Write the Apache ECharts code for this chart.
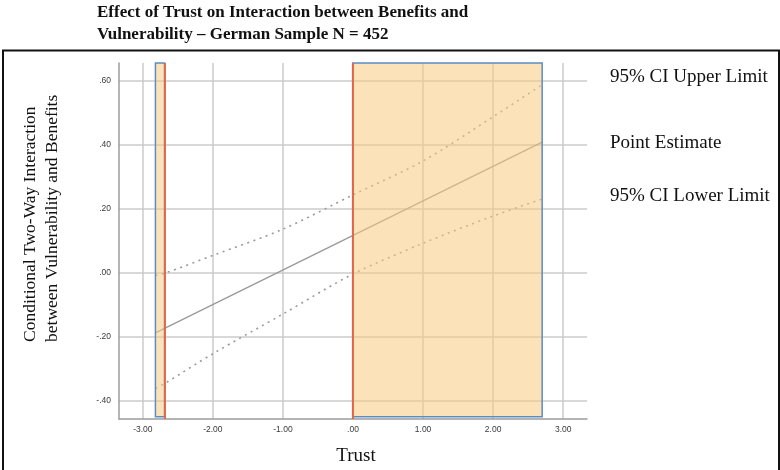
<!DOCTYPE html>
<html>
<head>
<meta charset="utf-8">
<script src="https://cdn.jsdelivr.net/npm/echarts@6/dist/echarts.min.js"></script>
<style>
html,body{margin:0;padding:0;background:#fff;}
#chart{width:780px;height:470px;}
</style>
</head>
<body>
<div id="chart"></div>
<script>
// ---- data ----
const titleLines = ['Effect of Trust on Interaction between Benefits and', 'Vulnerability \u2013 German Sample N = 452'];
const yTitleLines = ['Conditional Two-Way Interaction', 'between Vulnerability and Benefits'];
const xTitle = 'Trust';
const legendLabels = ['95% CI Upper Limit', 'Point Estimate', '95% CI Lower Limit'];

const xTicks = [-3, -2, -1, 0, 1, 2, 3];
const yTicks = [-0.4, -0.2, 0, 0.2, 0.4, 0.6];

const ciX = [-2.82, -2.68, -2.00, -1.00, 0.00, 1.00, 2.00, 2.70];
const upperCI = [-0.008, 0.000, 0.055, 0.137, 0.244, 0.350, 0.488, 0.588];
const lowerCI = [-0.360, -0.344, -0.252, -0.128, -0.003, 0.093, 0.178, 0.231];

const estX = [-2.82, 2.70];
const estimate = [-0.187, 0.409];

const jnPoints = [-2.68, -0.005];
const regionStart = [-2.82, -0.005];
const regionEnd = [-2.69, 2.70];
const regionLow = -0.449;
const regionHigh = 0.656;

const xMin = -3.34, xMax = 3.34, yMin = -0.456, yMax = 0.656;

// ---- chart ----
const fmt = v => {
  const s = Number(v).toFixed(2);
  return s.replace(/^(-?)0\./, '$1.');
};
const pair = (xs, ys) => xs.map((x, i) => [x, ys[i]]);

const chart = echarts.init(document.getElementById('chart'));
const serif = '"Liberation Serif", "Times New Roman", serif';
const sans = '"Liberation Sans", Arial, sans-serif';

chart.setOption({
  animation: false,
  grid: { left: 119, right: 193, top: 63, bottom: 51, containLabel: false },
  xAxis: {
    type: 'value', min: xMin, max: xMax,
    axisLine: { show: true, onZero: false, lineStyle: { color: '#9c9c9c', width: 1.5 } },
    axisTick: { show: false, customValues: xTicks },
    axisLabel: { customValues: xTicks, formatter: fmt, color: '#3a3a3a', fontSize: 8.5, fontFamily: sans, margin: 6 },
    splitLine: { show: true, lineStyle: { color: '#cbcbcb', width: 1.5 } }
  },
  yAxis: {
    type: 'value', min: yMin, max: yMax,
    axisLine: { show: true, onZero: false, lineStyle: { color: '#9c9c9c', width: 1.5 } },
    axisTick: { show: false, customValues: yTicks },
    axisLabel: { customValues: yTicks, formatter: fmt, color: '#3a3a3a', fontSize: 8.5, fontFamily: sans, margin: 8 },
    splitLine: { show: true, lineStyle: { color: '#cbcbcb', width: 1.5 } }
  },
  series: [
    {
      name: legendLabels[1], type: 'line', data: pair(estX, estimate), symbol: 'none',
      lineStyle: { color: '#999999', width: 1.3 }, z: 3
    },
    {
      name: legendLabels[0], type: 'line', data: pair(ciX, upperCI), symbol: 'none', smooth: 0.3,
      lineStyle: { color: '#9a9a9a', width: 1.6, type: [2, 4.5] }, z: 3
    },
    {
      name: legendLabels[2], type: 'line', data: pair(ciX, lowerCI), symbol: 'none', smooth: 0.3,
      lineStyle: { color: '#9a9a9a', width: 1.6, type: [2, 4.5] }, z: 3
    },
    {
      type: 'line', data: [], z: 10,
      markArea: {
        silent: true, z: 10,
        itemStyle: { color: 'rgba(247, 203, 128, 0.55)', borderColor: '#5b8cc2', borderWidth: 1.5 },
        data: regionStart.map((s, i) => [{ coord: [s, regionLow] }, { coord: [regionEnd[i], regionHigh] }])
      },
      markLine: {
        silent: true, symbol: 'none', z: 12, label: { show: false },
        lineStyle: { color: '#e8643c', width: 1.8, type: 'solid' },
        data: jnPoints.map(x => ({ xAxis: x }))
      }
    }
  ],
  graphic: [
    { type: 'rect', shape: { x: 3, y: 50.5, width: 776, height: 440 }, style: { fill: 'none', stroke: '#111', lineWidth: 2 }, silent: true },
    { type: 'text', x: 97, y: 13, style: { text: titleLines[0], font: 'bold 17px ' + serif, fill: '#111', textAlign: 'left', textVerticalAlign: 'middle' } },
    { type: 'text', x: 97, y: 35, style: { text: titleLines[1], font: 'bold 17px ' + serif, fill: '#111', textAlign: 'left', textVerticalAlign: 'middle' } },
    { type: 'text', x: 30, y: 342, rotation: Math.PI / 2, style: { text: yTitleLines[0], font: '17.5px ' + serif, fill: '#111', textAlign: 'left', textVerticalAlign: 'middle' } },
    { type: 'text', x: 52, y: 342, rotation: Math.PI / 2, style: { text: yTitleLines[1], font: '17.5px ' + serif, fill: '#111', textAlign: 'left', textVerticalAlign: 'middle' } },
    { type: 'text', x: 356, y: 456, style: { text: xTitle, font: '19px ' + serif, fill: '#111', textAlign: 'center', textVerticalAlign: 'middle' } },
    { type: 'text', x: 610, y: 77, style: { text: legendLabels[0], font: '19px ' + serif, fill: '#111', textAlign: 'left', textVerticalAlign: 'middle' } },
    { type: 'text', x: 610, y: 143.5, style: { text: legendLabels[1], font: '19px ' + serif, fill: '#111', textAlign: 'left', textVerticalAlign: 'middle' } },
    { type: 'text', x: 610, y: 196.5, style: { text: legendLabels[2], font: '19px ' + serif, fill: '#111', textAlign: 'left', textVerticalAlign: 'middle' } }
  ]
});
</script>
</body>
</html>
